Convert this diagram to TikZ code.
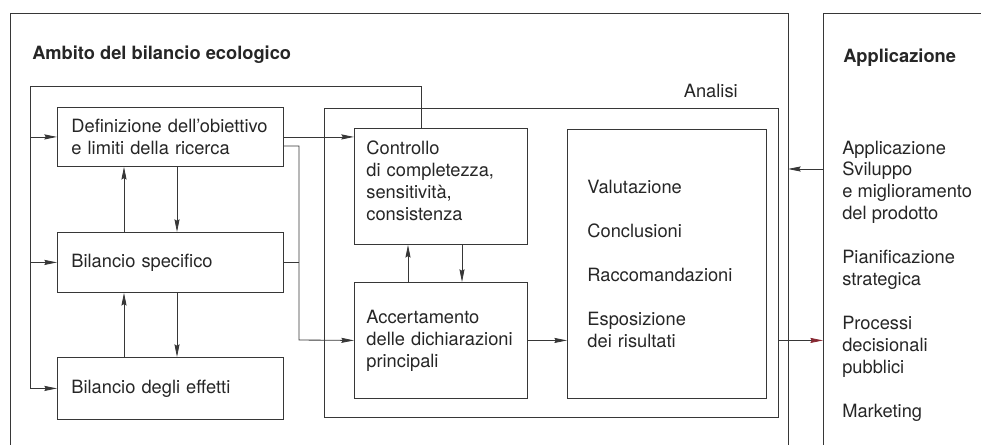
\documentclass[tikz,border=0pt]{standalone}
\usepackage{fontspec}
\setmainfont{TeX Gyre Heros}
\usetikzlibrary{arrows.meta}
\definecolor{linegrey}{RGB}{55,55,55}
\definecolor{tipred}{RGB}{135,40,50}
\tikzset{block/.style={draw=linegrey,line width=0.6pt,anchor=north west,inner xsep=0.35cm,inner ysep=0pt,align=left},
  wire/.style={draw=linegrey,line width=0.6pt},
  flow/.style={wire,-{Stealth[length=9pt,width=3.6pt,inset=1pt]}},
  redflow/.style={wire,-{Stealth[length=9pt,width=3.6pt,inset=1pt,color=tipred]}},
  title/.style={anchor=west,inner sep=0pt,font=\fontsize{13}{15.6}\selectfont\bfseries}}

\begin{document}
\begin{tikzpicture}[x=0.025cm,y=-0.025cm,font=\fontsize{13}{15.6}\selectfont,text=black!85]
\useasboundingbox (0,0) rectangle (981,445);
\coordinate (ambSW) at (10,445);
\coordinate (ambNE) at (788,13);
\coordinate (appSW) at (823,445);
\draw[wire] (ambSW) |- (ambNE) -- (ambNE |- ambSW);
\draw[wire] (appSW) |- (981,13);

\node[title] (ambito) at (32,55) {Ambito del bilancio ecologico};
\node[title] (applic) at (843,58) {Applicazione};
\node[anchor=east,inner sep=0pt] (analisi) at (738,91) {Analisi};

\node[block,minimum width=11.35cm,minimum height=7.725cm] (ana) at (324,108) {};
\node[block,text width=4.95cm,minimum height=1.475cm] (def) at (57,107) {Definizione dell'obiettivo\\e limiti della ricerca};
\node[block,text width=4.95cm,minimum height=1.5cm] (spec) at (57,232) {Bilancio specifico};
\node[block,text width=4.95cm,minimum height=1.55cm] (eff) at (57,357) {Bilancio degli effetti};
\node[block,inner xsep=0.3cm,text width=3.725cm,minimum height=2.9cm] (ctrl) at (354,128) {Controllo\\di completezza,\\sensitività,\\consistenza\\[-7pt]\mbox{}};
\node[block,inner xsep=0.3cm,text width=3.725cm,minimum height=2.9cm] (acc) at (354,282) {Accertamento\\delle dichiarazioni\\principali};
\node[block,inner xsep=0.5cm,text width=3.975cm,minimum height=6.725cm] (ris) at (567,129) {Valutazione\\[\baselineskip]Conclusioni\\[\baselineskip]Raccomandazioni\\[\baselineskip]Esposizione\\dei risultati};
\node[anchor=west,inner sep=0pt,align=left] (uso) at (842,281) {Applicazione\\Sviluppo\\e miglioramento\\del prodotto\\[\baselineskip]Pianificazione\\strategica\\[\baselineskip]Processi\\decisionali\\pubblici\\[\baselineskip]Marketing};

\coordinate (loopR) at (421,86);
\coordinate (loopL) at (30,86);
\draw[flow] (ctrl.north -| loopR) -- (loopR) -- (loopL) |- (eff.west);
\draw[flow] (loopL |- def.west) -- (def.west);
\draw[flow] (loopL |- spec.west) -- (spec.west);

\coordinate (up) at (124,0);
\coordinate (down) at (177,0);
\draw[flow] (spec.north -| up) -- (def.south -| up);
\draw[flow] (def.south -| down) -- (spec.north -| down);
\draw[flow] (eff.north -| up) -- (spec.south -| up);
\draw[flow] (spec.south -| down) -- (eff.north -| down);

\coordinate (up2) at (408,0);
\coordinate (down2) at (462,0);
\draw[flow] (acc.north -| up2) -- (ctrl.south -| up2);
\draw[flow] (ctrl.south -| down2) -- (acc.north -| down2);

\coordinate (knot) at (299,340);
\draw[flow] (def.east) -- (def.east -| ctrl.west);
\draw[flow] ([yshift=-0.225cm]def.east) -| (knot) -- (acc.west);
\draw[wire] (spec.east) -- (spec.east -| knot);
\draw[flow] (acc.east) -- (ris.west |- acc.east);

\coordinate (back) at (823,169);
\draw[flow] (back) -- (back -| ambNE);
\draw[redflow] (ana.east |- acc.east) -- (acc.east -| appSW);
\end{tikzpicture}
\end{document}
